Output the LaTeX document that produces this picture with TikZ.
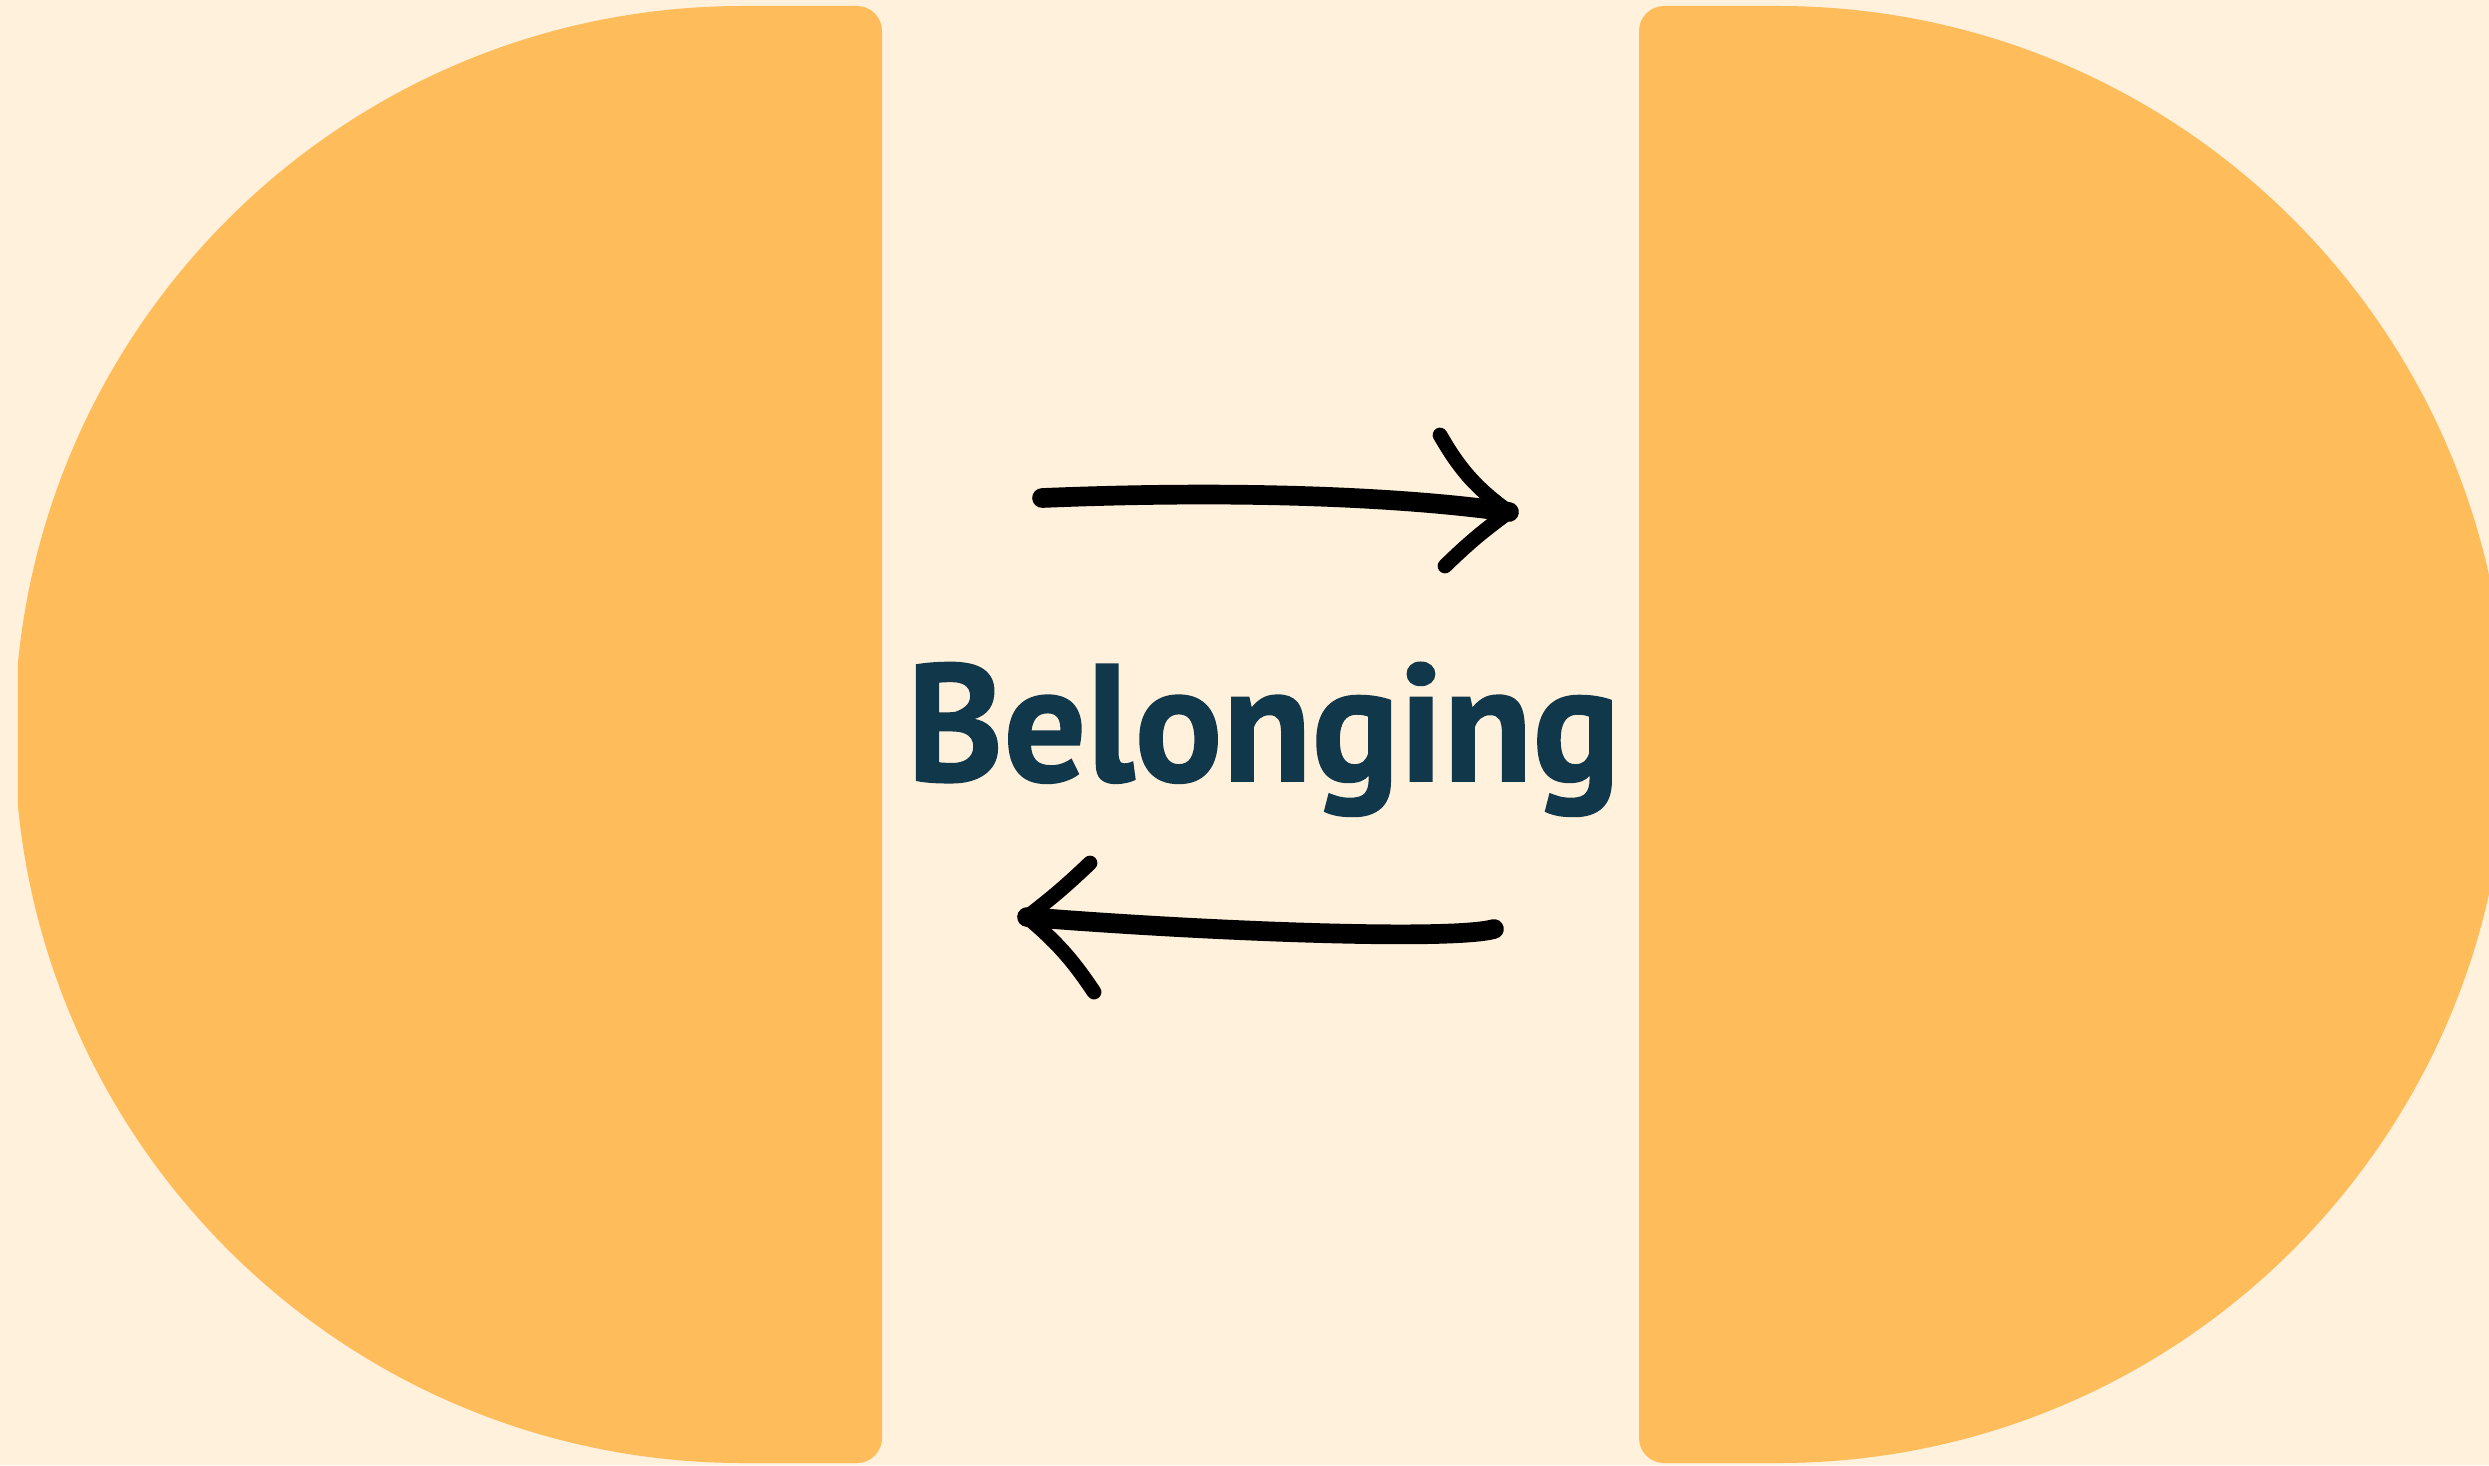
\documentclass[tikz,border=0pt]{standalone}
\usepackage{fontspec}
\newfontfamily\labelfont{PT Sans}[BoldFeatures={FakeBold=1}]
\definecolor{bgcream}{HTML}{FFF1DC}
\definecolor{halforange}{HTML}{FEBC5A}
\definecolor{inknavy}{HTML}{10374A}
\begin{document}
\begin{tikzpicture}[
    half/.style={fill=halforange},
    brush/.style={draw=black, line width=5.6pt, line cap=round, line join=round},
    barb/.style={draw=black, line width=4.2pt, line cap=round, line join=round},
    word/.style={text=inknavy, font=\labelfont\bfseries\fontsize{47.5}{49}\selectfont, inner sep=0pt, xscale=0.98}
  ]
  % Canvas
  \useasboundingbox (0, 0) rectangle (24.89, 14.65);
  \fill[bgcream] (0, 0) rectangle (24.89, 14.65);
  \clip (0.18, 0) rectangle (24.89, 14.65);

  % Left half disc: centre (7.43, 7.305), radius 7.285
  \fill[half] (7.43, 14.59) -- (8.57, 14.59) arc[start angle=90, end angle=0, radius=0.25]
    -- (8.82, 0.27) arc[start angle=0, end angle=-90, radius=0.25] -- (7.43, 0.02)
    arc[start angle=-90, end angle=-270, radius=7.285] -- cycle;

  % Right half disc: centre (17.78, 7.305)
  \fill[half] (17.78, 14.59) -- (16.64, 14.59) arc[start angle=90, end angle=180, radius=0.25]
    -- (16.39, 0.27) arc[start angle=180, end angle=270, radius=0.25] -- (17.78, 0.02)
    arc[start angle=-90, end angle=90, radius=7.285] -- cycle;

  % Label
  \node[word, anchor=base] (belong) at (12.635, 6.84) {Belonging};

  % Upper arrow (to the right)
  \coordinate (topTail) at (10.42, 9.67);
  \coordinate (topTip) at (15.09, 9.53);
  \coordinate (topUp) at (14.40, 10.30);
  \coordinate (topDown) at (14.45, 8.99);
  \draw[brush] (topTail) .. controls (12.6, 9.76) and (14.2, 9.66) .. (topTip);
  \draw[barb] (topUp) to[bend right=12] (topTip) to[bend right=4] (topDown);

  % Lower arrow (to the left)
  \coordinate (botTail) at (14.94, 5.36);
  \coordinate (botTip) at (10.27, 5.48);
  \coordinate (botUp) at (10.90, 6.02);
  \coordinate (botDown) at (10.94, 4.73);
  \draw[brush] (botTail) .. controls (14.5, 5.24) and (12.0, 5.34) .. (botTip);
  \draw[barb] (botUp) to[bend left=3] (botTip) to[bend left=8] (botDown);
\end{tikzpicture}
\end{document}
